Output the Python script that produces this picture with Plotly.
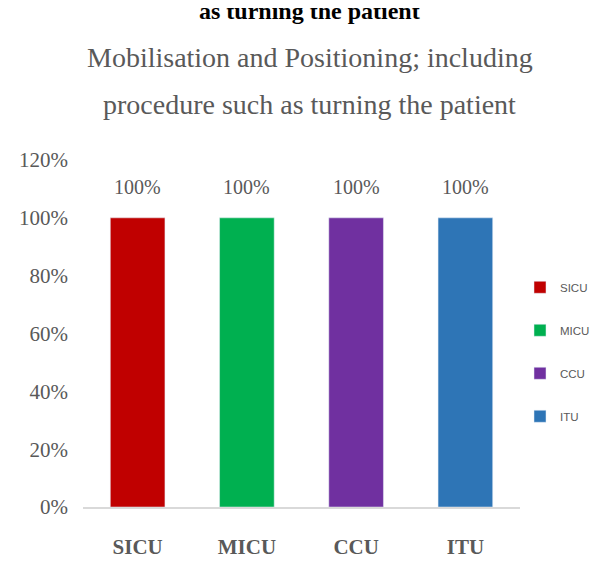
import plotly.graph_objects as go

categories = ["SICU", "MICU", "CCU", "ITU"]
values = [100, 100, 100, 100]
colors = ["#C00000", "#00B050", "#7030A0", "#2E75B6"]
y_ticks = [0, 20, 40, 60, 80, 100, 120]

SERIF = "Liberation Serif, Times New Roman, serif"
GRAY = "#595959"

fig = go.Figure()
for cat, val, col in zip(categories, values, colors):
    fig.add_trace(go.Bar(
        x=[cat], y=[val], name=cat, marker_color=col, width=0.5,
        legendgroup=cat, showlegend=True,
    ))
    fig.add_annotation(x=cat, y=val, text=f"{val}%", showarrow=False,
                       yanchor="bottom", yshift=18,
                       font=dict(family=SERIF, size=20, color=GRAY))

fig.add_annotation(xref="paper", yref="paper", x=0.519, y=1.294,
                   text="Mobilisation and Positioning; including", showarrow=False,
                   yanchor="middle", font=dict(family=SERIF, size=28, color=GRAY))
fig.add_annotation(xref="paper", yref="paper", x=0.519, y=1.161,
                   text="procedure such as turning the patient", showarrow=False,
                   yanchor="middle", font=dict(family=SERIF, size=28, color=GRAY))
fig.add_annotation(xref="paper", yref="paper", x=0.519, y=1.474,
                   text="<b>as turning the patient</b>", showarrow=False,
                   yanchor="top", font=dict(family=SERIF, size=24, color="black"))

fig.update_layout(
    width=584, height=553,
    margin=dict(l=75, r=72, t=152, b=54, autoexpand=False),
    paper_bgcolor="white", plot_bgcolor="white",
    barmode="overlay",
    showlegend=True,
    legend=dict(x=1.0, y=0.675, xanchor="left", yanchor="top",
                font=dict(family="Liberation Sans Narrow, Liberation Sans, Arial, sans-serif", size=11.5, color=GRAY),
                tracegroupgap=24, traceorder="grouped", itemwidth=30),
    xaxis=dict(categoryorder="array", categoryarray=categories,
               showline=True, linecolor="#D9D9D9", linewidth=2, ticks="",
               ticklabelstandoff=20,
               tickfont=dict(family=SERIF, size=21, color=GRAY, weight="bold")),
    yaxis=dict(range=[0, 120], tickvals=y_ticks, ticktext=[f"{t}%" for t in y_ticks],
               showgrid=False, zeroline=False, showline=False, ticks="",
               ticklabelstandoff=14,
               tickfont=dict(family=SERIF, size=21, color=GRAY)),
)

fig.write_html("out.html")
